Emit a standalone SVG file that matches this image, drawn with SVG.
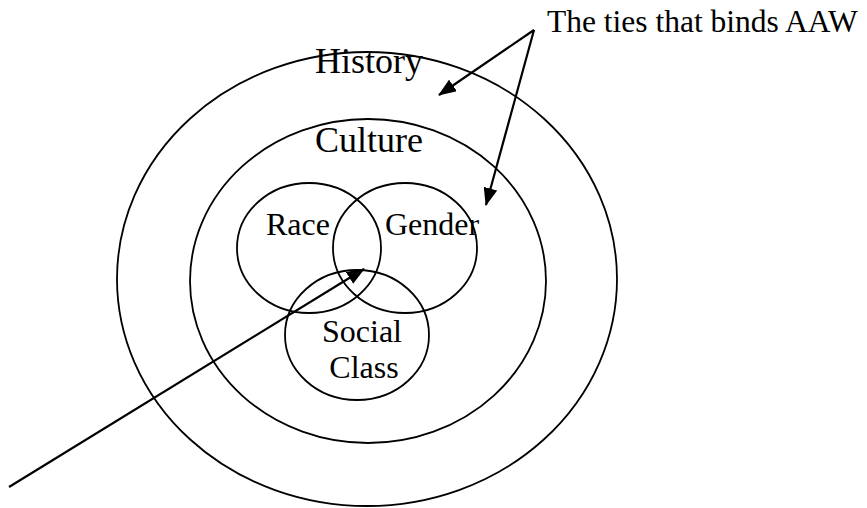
<svg xmlns="http://www.w3.org/2000/svg" width="867" height="508" viewBox="0 0 867 508">
<style>
.ring{fill:none;stroke:#000;stroke-width:1.8}
.t{font-family:"Liberation Serif","Times New Roman",serif;fill:#000}
.big{font-size:36px}
.mid{font-size:32px}
.conn{fill:none;stroke:#000;stroke-width:2.2}
</style>
<defs>
<marker id="ah" markerUnits="userSpaceOnUse" markerWidth="18" markerHeight="14" viewBox="0 0 18 14" refX="17" refY="7" orient="auto">
<path d="M0,0 L18,7 L0,14 Z" fill="#000"/>
</marker>
</defs>
<rect width="867" height="508" fill="#fff"/>
<g id="history">
<ellipse class="ring" cx="367" cy="279" rx="250" ry="227"/>
<text class="t big" x="315" y="73">History</text>
</g>
<g id="culture">
<ellipse class="ring" cx="368" cy="281" rx="178" ry="162"/>
<text class="t big" x="315" y="152">Culture</text>
</g>
<g id="race">
<ellipse class="ring" cx="309" cy="248" rx="72" ry="65"/>
<text class="t mid" x="266" y="235">Race</text>
</g>
<g id="gender">
<ellipse class="ring" cx="405" cy="248" rx="72" ry="65"/>
<text class="t mid" x="385" y="235">Gender</text>
</g>
<g id="social-class">
<ellipse class="ring" cx="357" cy="335" rx="72" ry="65"/>
<text class="t mid" x="362" y="342" text-anchor="middle">Social</text>
<text class="t mid" x="364" y="378" text-anchor="middle">Class</text>
</g>
<g id="label">
<text class="t" font-size="31.5" x="547" y="32">The ties that binds AAW</text>
</g>
<g id="connectors">
<line class="conn" x1="534" y1="30" x2="439" y2="95" marker-end="url(#ah)"/>
<line class="conn" x1="534" y1="30" x2="486" y2="205" marker-end="url(#ah)"/>
<line class="conn" x1="9" y1="487" x2="364" y2="269" marker-end="url(#ah)"/>
</g>
</svg>
